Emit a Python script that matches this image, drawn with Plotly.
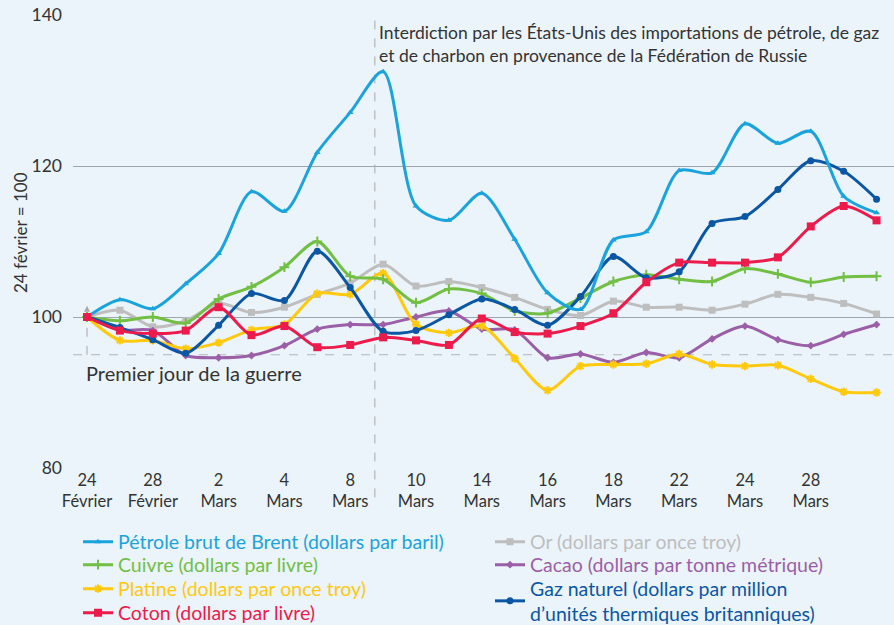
import plotly.graph_objects as go

dates = ["24 Fév", "25 Fév", "28 Fév", "1 Mar", "2 Mar", "3 Mar", "4 Mar", "7 Mar", "8 Mar",
         "9 Mar", "10 Mar", "11 Mar", "14 Mar", "15 Mar", "16 Mar", "17 Mar", "18 Mar",
         "21 Mar", "22 Mar", "23 Mar", "24 Mar", "25 Mar", "28 Mar", "29 Mar", "30 Mar"]

brent = [100, 102.3, 101.1, 104.4, 108.4, 116.6, 114.0, 121.8, 127.1, 132.5, 114.7, 112.8, 116.4,
         110.3, 103.2, 101.0, 110.2, 111.3, 119.4, 119.1, 125.6, 123.0, 124.6, 116.0, 113.8]
cuivre = [100, 99.5, 100.0, 99.2, 102.4, 104.0, 106.6, 110.0, 105.4, 105.0, 101.9, 103.7, 103.1,
          100.8, 100.5, 102.5, 104.7, 105.6, 105.0, 104.7, 106.4, 105.7, 104.6, 105.3, 105.4]
platine = [100, 96.9, 96.9, 95.8, 96.6, 98.3, 99.0, 103.1, 103.0, 105.8, 99.0, 97.9, 98.8,
           94.5, 90.3, 93.5, 93.7, 93.8, 95.1, 93.7, 93.5, 93.6, 91.8, 90.1, 90.0]
coton = [100, 98.2, 97.8, 98.2, 101.3, 97.6, 98.8, 96.0, 96.3, 97.3, 96.9, 96.3, 99.8,
         98.0, 97.8, 98.8, 100.5, 104.6, 107.2, 107.2, 107.2, 107.9, 112.0, 114.7, 112.8]
orr = [100, 100.9, 98.7, 99.5, 101.8, 100.6, 101.3, 103.0, 104.5, 107.0, 104.1, 104.7, 103.9,
       102.6, 101.0, 100.2, 102.1, 101.3, 101.3, 100.9, 101.7, 103.0, 102.6, 101.8, 100.4]
cacao = [100, 98.3, 98.2, 94.9, 94.6, 94.9, 96.2, 98.4, 99.0, 99.0, 100.0, 100.8, 98.4,
         98.3, 94.6, 95.1, 94.0, 95.3, 94.6, 97.1, 98.8, 97.0, 96.2, 97.7, 99.0]
gaz = [100, 98.6, 97.0, 95.2, 98.9, 103.1, 102.2, 108.7, 103.9, 98.1, 98.2, 100.3, 102.4,
       101.0, 98.9, 102.7, 108.0, 105.2, 106.0, 112.4, 113.3, 116.9, 120.7, 119.3, 115.6]

tick_idx = [0, 2, 4, 6, 8, 10, 12, 14, 16, 18, 20, 22]
tick_text = ["24<br>Février", "28<br>Février", "2<br>Mars", "4<br>Mars", "8<br>Mars", "10<br>Mars",
             "14<br>Mars", "16<br>Mars", "18<br>Mars", "22<br>Mars", "24<br>Mars", "28<br>Mars"]

FONT = "Lato"
BG = "#EBF4FB"
TXT = "#333333"
x = list(range(len(dates)))

# plot area: top 15 px, bottom 468 px, left 73 px, right 894 px
def py(px):
    return (468 - px) / 453.0

def pxx(px):
    return (px - 73) / 821.0

series = [
    # name, data, color, symbol, size, legend id, legend left px, legend y (px centre)
    ("Or (dollars par once troy)", orr, "#BEBEBE", "square", 7, "legend5", 490, 542),
    ("Cacao (dollars par tonne métrique)", cacao, "#9B5FA8", "diamond", 6, "legend6", 490, 565),
    ("Platine (dollars par once troy)", platine, "#FFC90E", "asterisk-open", 7, "legend3", 78, 589),
    ("Cuivre (dollars par livre)", cuivre, "#72BF44", "cross-thin-open", 7, "legend2", 78, 565),
    ("Gaz naturel (dollars par million<br>d\u2019unités thermiques britanniques)", gaz, "#0B57A4", "circle", 7, "legend7", 490, 601),
    ("Pétrole brut de Brent (dollars par baril)", brent, "#1BA3DC", "triangle-up", 6, "legend", 78, 542),
    ("Coton (dollars par livre)", coton, "#EC1B4B", "square", 8, "legend4", 78, 613),
]

fig = go.Figure()
legends = {}
for name, data, color, sym, size, leg, lxpx, lypx in series:
    fig.add_trace(go.Scatter(
        x=x, y=data, mode="lines+markers",
        name=f'<span style="color:{color}">{name}</span>',
        line=dict(color=color, width=3, shape="spline", smoothing=0.8),
        marker=dict(symbol=sym, size=size, color=color, line=dict(color=color, width=2 if "open" in sym else 0)),
        legend=leg,
    ))
    legends[leg] = dict(x=pxx(lxpx), y=py(lypx), xanchor="left", yanchor="middle",
                        bgcolor="rgba(0,0,0,0)", font=dict(family=FONT, size=19.5),
                        itemwidth=30, borderwidth=0)

# dashed reference lines
fig.add_shape(type="line", xref="x", yref="paper", x0=8.75, x1=8.75, y0=-0.065, y1=0.99,
              line=dict(color="#A8A8A8", width=1, dash="dash"), layer="below")
fig.add_shape(type="line", xref="paper", yref="y", x0=0, x1=1, y0=95, y1=95,
              line=dict(color="#B4B4B4", width=1, dash="dash"), layer="below")
fig.add_shape(type="line", xref="x", yref="y", x0=0, x1=0, y0=95, y1=100.6,
              line=dict(color="#A8A8A8", width=1, dash="dash"), layer="below")
fig.add_annotation(x=0, y=101.5, xref="x", yref="y", ax=0, ay=6, showarrow=True,
                   arrowhead=2, arrowsize=1.2, arrowwidth=1, arrowcolor="#A8A8A8", text="")

fig.add_annotation(x=8.8, y=139.3, xref="x", yref="y", xanchor="left", yanchor="top",
                   text="Interdiction par les États-Unis des importations de pétrole, de gaz<br>"
                        "et de charbon en provenance de la Fédération de Russie",
                   showarrow=False, align="left", font=dict(family=FONT, size=17.5, color=TXT))
fig.add_annotation(x=-0.1, y=92.6, xref="x", yref="y", xanchor="left", yanchor="middle",
                   text="Premier jour de la guerre", showarrow=False,
                   font=dict(family=FONT, size=20, color=TXT))
# y-axis title
fig.add_annotation(x=pxx(20), y=py(233), xref="paper", yref="paper", xanchor="center", yanchor="middle",
                   text="24 février = 100", textangle=-90, showarrow=False,
                   font=dict(family=FONT, size=17, color=TXT))

fig.update_layout(
    width=894, height=625,
    margin=dict(l=73, r=0, t=15, b=157, autoexpand=False),
    paper_bgcolor=BG, plot_bgcolor=BG,
    font=dict(family=FONT, size=17, color=TXT),
    showlegend=True,
    xaxis=dict(range=[-0.426, 24.53], tickmode="array", tickvals=tick_idx, ticktext=tick_text,
               showgrid=False, zeroline=False, showline=False, ticks="", automargin=False,
               tickfont=dict(family=FONT, size=16.5, color=TXT)),
    yaxis=dict(range=[80, 140], tickvals=[80, 100, 120, 140], showgrid=True, automargin=False,
               gridcolor="#9DA5AE", gridwidth=1, zeroline=False, showline=False, ticks="",
               ticklabelstandoff=10,
               tickfont=dict(family=FONT, size=17.5, color=TXT)),
    **legends,
)

fig.write_html("out.html", config={"displayModeBar": False},
               post_script="document.body.style.margin='0';document.body.style.background='%s';" % BG)
